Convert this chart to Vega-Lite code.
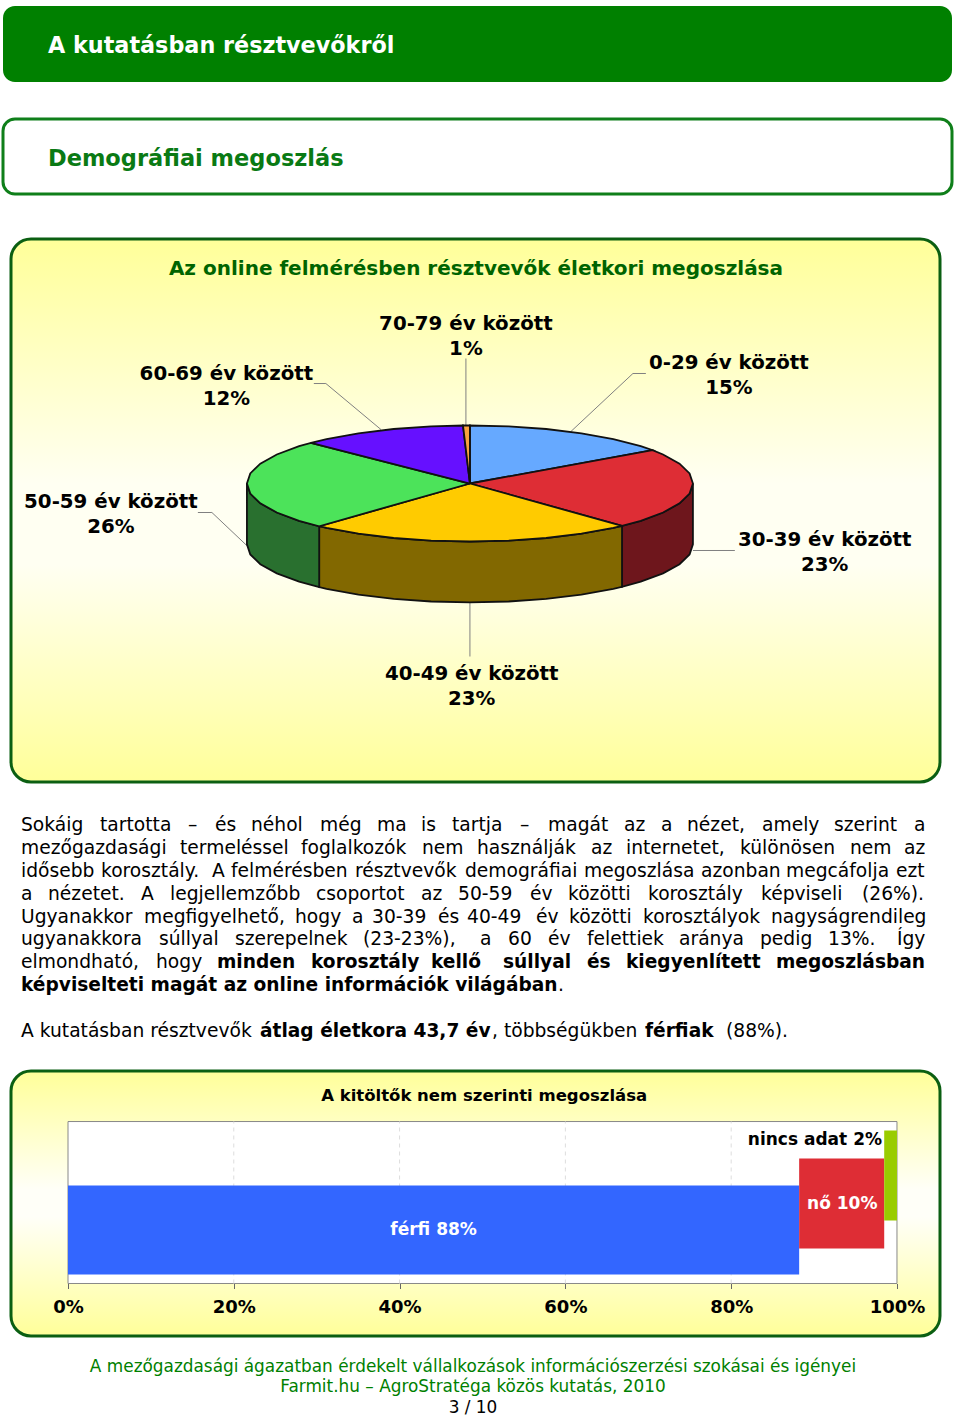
{
"$schema":"https://vega.github.io/schema/vega-lite/v6.json",
"background":"white",
"padding":{"left":1,"top":6,"right":0,"bottom":0},
"autosize":{"type":"pad"},
"spacing":0,
"resolve":{"scale":{"fill":"independent","color":"independent"}},
"config":{"font":"DejaVu Sans","view":{"stroke":null},"concat":{"spacing":0}},
"datasets":{
"lapok":[
{"resz":"0-29 év","o":0,"e":0,"n":0},{"resz":"0-29 év","o":1,"e":0,"n":1},{"resz":"0-29 év","o":2,"e":0.174,"n":0.985},{"resz":"0-29 év","o":3,"e":0.342,"n":0.94},{"resz":"0-29 év","o":4,"e":0.5,"n":0.866},{"resz":"0-29 év","o":5,"e":0.643,"n":0.766},{"resz":"0-29 év","o":6,"e":0.766,"n":0.643},{"resz":"0-29 év","o":7,"e":0.819,"n":0.574},{"resz":"0-29 év","o":8,"e":0,"n":0},
{"resz":"30-39 év","o":0,"e":0,"n":0},{"resz":"30-39 év","o":1,"e":0.819,"n":0.574},{"resz":"30-39 év","o":2,"e":0.866,"n":0.5},{"resz":"30-39 év","o":3,"e":0.94,"n":0.342},{"resz":"30-39 év","o":4,"e":0.985,"n":0.174},{"resz":"30-39 év","o":5,"e":1,"n":0},{"resz":"30-39 év","o":6,"e":0.985,"n":-0.174},{"resz":"30-39 év","o":7,"e":0.94,"n":-0.342},{"resz":"30-39 év","o":8,"e":0.866,"n":-0.5},{"resz":"30-39 év","o":9,"e":0.766,"n":-0.643},{"resz":"30-39 év","o":10,"e":0.682,"n":-0.731},{"resz":"30-39 év","o":11,"e":0,"n":0},
{"resz":"40-49 év","o":0,"e":0,"n":0},{"resz":"40-49 év","o":1,"e":0.682,"n":-0.731},{"resz":"40-49 év","o":2,"e":0.643,"n":-0.766},{"resz":"40-49 év","o":3,"e":0.5,"n":-0.866},{"resz":"40-49 év","o":4,"e":0.342,"n":-0.94},{"resz":"40-49 év","o":5,"e":0.174,"n":-0.985},{"resz":"40-49 év","o":6,"e":0,"n":-1},{"resz":"40-49 év","o":7,"e":-0.174,"n":-0.985},{"resz":"40-49 év","o":8,"e":-0.342,"n":-0.94},{"resz":"40-49 év","o":9,"e":-0.5,"n":-0.866},{"resz":"40-49 év","o":10,"e":-0.643,"n":-0.766},{"resz":"40-49 év","o":11,"e":-0.676,"n":-0.737},{"resz":"40-49 év","o":12,"e":0,"n":0},
{"resz":"50-59 év","o":0,"e":0,"n":0},{"resz":"50-59 év","o":1,"e":-0.676,"n":-0.737},{"resz":"50-59 év","o":2,"e":-0.766,"n":-0.643},{"resz":"50-59 év","o":3,"e":-0.866,"n":-0.5},{"resz":"50-59 év","o":4,"e":-0.94,"n":-0.342},{"resz":"50-59 év","o":5,"e":-0.985,"n":-0.174},{"resz":"50-59 év","o":6,"e":-1,"n":0},{"resz":"50-59 év","o":7,"e":-0.985,"n":0.174},{"resz":"50-59 év","o":8,"e":-0.94,"n":0.342},{"resz":"50-59 év","o":9,"e":-0.866,"n":0.5},{"resz":"50-59 év","o":10,"e":-0.766,"n":0.643},{"resz":"50-59 év","o":11,"e":-0.713,"n":0.701},{"resz":"50-59 év","o":12,"e":0,"n":0},
{"resz":"60-69 év","o":0,"e":0,"n":0},{"resz":"60-69 év","o":1,"e":-0.713,"n":0.701},{"resz":"60-69 év","o":2,"e":-0.643,"n":0.766},{"resz":"60-69 év","o":3,"e":-0.5,"n":0.866},{"resz":"60-69 év","o":4,"e":-0.342,"n":0.94},{"resz":"60-69 év","o":5,"e":-0.174,"n":0.985},{"resz":"60-69 év","o":6,"e":-0.031,"n":1},{"resz":"60-69 év","o":7,"e":0,"n":0},
{"resz":"70-79 év","o":0,"e":0,"n":0},{"resz":"70-79 év","o":1,"e":-0.031,"n":1},{"resz":"70-79 év","o":2,"e":0,"n":1},{"resz":"70-79 év","o":3,"e":0,"n":0}
],
"oldalak":[
{"resz":"30-39 év oldal","o":0,"e":1,"n":0},{"resz":"30-39 év oldal","o":1,"e":0.985,"n":-0.174},{"resz":"30-39 év oldal","o":2,"e":0.94,"n":-0.342},{"resz":"30-39 év oldal","o":3,"e":0.866,"n":-0.5},{"resz":"30-39 év oldal","o":4,"e":0.766,"n":-0.643},{"resz":"30-39 év oldal","o":5,"e":0.682,"n":-0.731},{"resz":"30-39 év oldal","o":6,"e":0.682,"n":-1.781},{"resz":"30-39 év oldal","o":7,"e":0.766,"n":-1.693},{"resz":"30-39 év oldal","o":8,"e":0.866,"n":-1.55},{"resz":"30-39 év oldal","o":9,"e":0.94,"n":-1.392},{"resz":"30-39 év oldal","o":10,"e":0.985,"n":-1.224},{"resz":"30-39 év oldal","o":11,"e":1,"n":-1.05},{"resz":"30-39 év oldal","o":12,"e":1,"n":0},
{"resz":"40-49 év oldal","o":0,"e":0.682,"n":-0.731},{"resz":"40-49 év oldal","o":1,"e":0.643,"n":-0.766},{"resz":"40-49 év oldal","o":2,"e":0.5,"n":-0.866},{"resz":"40-49 év oldal","o":3,"e":0.342,"n":-0.94},{"resz":"40-49 év oldal","o":4,"e":0.174,"n":-0.985},{"resz":"40-49 év oldal","o":5,"e":0,"n":-1},{"resz":"40-49 év oldal","o":6,"e":-0.174,"n":-0.985},{"resz":"40-49 év oldal","o":7,"e":-0.342,"n":-0.94},{"resz":"40-49 év oldal","o":8,"e":-0.5,"n":-0.866},{"resz":"40-49 év oldal","o":9,"e":-0.643,"n":-0.766},{"resz":"40-49 év oldal","o":10,"e":-0.676,"n":-0.737},{"resz":"40-49 év oldal","o":11,"e":-0.676,"n":-1.787},{"resz":"40-49 év oldal","o":12,"e":-0.643,"n":-1.816},{"resz":"40-49 év oldal","o":13,"e":-0.5,"n":-1.916},{"resz":"40-49 év oldal","o":14,"e":-0.342,"n":-1.99},{"resz":"40-49 év oldal","o":15,"e":-0.174,"n":-2.035},{"resz":"40-49 év oldal","o":16,"e":0,"n":-2.05},{"resz":"40-49 év oldal","o":17,"e":0.174,"n":-2.035},{"resz":"40-49 év oldal","o":18,"e":0.342,"n":-1.99},{"resz":"40-49 év oldal","o":19,"e":0.5,"n":-1.916},{"resz":"40-49 év oldal","o":20,"e":0.643,"n":-1.816},{"resz":"40-49 év oldal","o":21,"e":0.682,"n":-1.781},{"resz":"40-49 év oldal","o":22,"e":0.682,"n":-0.731},
{"resz":"50-59 év oldal","o":0,"e":-0.676,"n":-0.737},{"resz":"50-59 év oldal","o":1,"e":-0.766,"n":-0.643},{"resz":"50-59 év oldal","o":2,"e":-0.866,"n":-0.5},{"resz":"50-59 év oldal","o":3,"e":-0.94,"n":-0.342},{"resz":"50-59 év oldal","o":4,"e":-0.985,"n":-0.174},{"resz":"50-59 év oldal","o":5,"e":-1,"n":0},{"resz":"50-59 év oldal","o":6,"e":-1,"n":-1.05},{"resz":"50-59 év oldal","o":7,"e":-0.985,"n":-1.224},{"resz":"50-59 év oldal","o":8,"e":-0.94,"n":-1.392},{"resz":"50-59 év oldal","o":9,"e":-0.866,"n":-1.55},{"resz":"50-59 év oldal","o":10,"e":-0.766,"n":-1.693},{"resz":"50-59 év oldal","o":11,"e":-0.676,"n":-1.787},{"resz":"50-59 év oldal","o":12,"e":-0.676,"n":-0.737}
],
"vezetok":[
{"cs":"60-69","o":0,"e":-0.7,"n":1.724},{"cs":"60-69","o":1,"e":-0.646,"n":1.724},{"cs":"60-69","o":2,"e":-0.399,"n":0.931},
{"cs":"70-79","o":0,"e":-0.018,"n":2.155},{"cs":"70-79","o":1,"e":-0.018,"n":1},
{"cs":"0-29","o":0,"e":0.789,"n":1.897},{"cs":"0-29","o":1,"e":0.731,"n":1.897},{"cs":"0-29","o":2,"e":0.453,"n":0.897},
{"cs":"50-59","o":0,"e":-1.22,"n":-0.5},{"cs":"50-59","o":1,"e":-1.157,"n":-0.5},{"cs":"50-59","o":2,"e":-0.996,"n":-1.086},
{"cs":"30-39","o":0,"e":1,"n":-1.155},{"cs":"30-39","o":1,"e":1.188,"n":-1.155},
{"cs":"40-49","o":0,"e":0,"n":-2.05},{"cs":"40-49","o":1,"e":0,"n":-2.983}
],
"cimkek":[
{"felirat":"60-69 év között\n12%","e":-1.092,"n":1.69},
{"felirat":"70-79 év között\n1%","e":-0.018,"n":2.56},
{"felirat":"0-29 év között\n15%","e":1.161,"n":1.871},
{"felirat":"50-59 év között\n26%","e":-1.61,"n":-0.509},
{"felirat":"30-39 év között\n23%","e":1.591,"n":-1.164},
{"felirat":"40-49 év között\n23%","e":0.008,"n":-3.491}
],
"szavak":[
{"sor":1,"hely":21,"szo":"Sokáig","f":0},{"sor":1,"hely":100,"szo":"tartotta","f":0},{"sor":1,"hely":188,"szo":"–","f":0},{"sor":1,"hely":215,"szo":"és","f":0},{"sor":1,"hely":251,"szo":"néhol","f":0},{"sor":1,"hely":320,"szo":"még","f":0},{"sor":1,"hely":377,"szo":"ma","f":0},{"sor":1,"hely":421,"szo":"is","f":0},{"sor":1,"hely":452,"szo":"tartja","f":0},{"sor":1,"hely":520,"szo":"–","f":0},{"sor":1,"hely":548,"szo":"magát","f":0},{"sor":1,"hely":624,"szo":"az","f":0},{"sor":1,"hely":661,"szo":"a","f":0},{"sor":1,"hely":687,"szo":"nézet,","f":0},{"sor":1,"hely":762,"szo":"amely","f":0},{"sor":1,"hely":834,"szo":"szerint","f":0},{"sor":1,"hely":914,"szo":"a","f":0},
{"sor":2,"hely":21,"szo":"mezőgazdasági","f":0},{"sor":2,"hely":180,"szo":"termeléssel","f":0},{"sor":2,"hely":301,"szo":"foglalkozók","f":0},{"sor":2,"hely":422,"szo":"nem","f":0},{"sor":2,"hely":477,"szo":"használják","f":0},{"sor":2,"hely":591,"szo":"az","f":0},{"sor":2,"hely":626,"szo":"internetet,","f":0},{"sor":2,"hely":740,"szo":"különösen","f":0},{"sor":2,"hely":850,"szo":"nem","f":0},{"sor":2,"hely":904,"szo":"az","f":0},
{"sor":3,"hely":21,"szo":"idősebb","f":0},{"sor":3,"hely":101,"szo":"korosztály.","f":0},{"sor":3,"hely":212,"szo":"A","f":0},{"sor":3,"hely":231,"szo":"felmérésben","f":0},{"sor":3,"hely":355,"szo":"résztvevők","f":0},{"sor":3,"hely":465,"szo":"demográfiai","f":0},{"sor":3,"hely":584,"szo":"megoszlása","f":0},{"sor":3,"hely":701,"szo":"azonban","f":0},{"sor":3,"hely":786,"szo":"megcáfolja","f":0},{"sor":3,"hely":896,"szo":"ezt","f":0},
{"sor":4,"hely":21,"szo":"a","f":0},{"sor":4,"hely":48,"szo":"nézetet.","f":0},{"sor":4,"hely":141,"szo":"A","f":0},{"sor":4,"hely":170,"szo":"legjellemzőbb","f":0},{"sor":4,"hely":316,"szo":"csoportot","f":0},{"sor":4,"hely":421,"szo":"az","f":0},{"sor":4,"hely":458,"szo":"50-59","f":0},{"sor":4,"hely":530,"szo":"év","f":0},{"sor":4,"hely":568,"szo":"közötti","f":0},{"sor":4,"hely":648,"szo":"korosztály","f":0},{"sor":4,"hely":761,"szo":"képviseli","f":0},{"sor":4,"hely":862,"szo":"(26%).","f":0},
{"sor":5,"hely":21,"szo":"Ugyanakkor","f":0},{"sor":5,"hely":144,"szo":"megfigyelhető,","f":0},{"sor":5,"hely":295,"szo":"hogy","f":0},{"sor":5,"hely":352,"szo":"a","f":0},{"sor":5,"hely":372,"szo":"30-39","f":0},{"sor":5,"hely":438,"szo":"és","f":0},{"sor":5,"hely":467,"szo":"40-49","f":0},{"sor":5,"hely":536,"szo":"év","f":0},{"sor":5,"hely":569,"szo":"közötti","f":0},{"sor":5,"hely":643,"szo":"korosztályok","f":0},{"sor":5,"hely":771,"szo":"nagyságrendileg","f":0},
{"sor":6,"hely":21,"szo":"ugyanakkora","f":0},{"sor":6,"hely":159,"szo":"súllyal","f":0},{"sor":6,"hely":235,"szo":"szerepelnek","f":0},{"sor":6,"hely":363,"szo":"(23-23%),","f":0},{"sor":6,"hely":480,"szo":"a","f":0},{"sor":6,"hely":508,"szo":"60","f":0},{"sor":6,"hely":548,"szo":"év","f":0},{"sor":6,"hely":587,"szo":"felettiek","f":0},{"sor":6,"hely":679,"szo":"aránya","f":0},{"sor":6,"hely":760,"szo":"pedig","f":0},{"sor":6,"hely":828,"szo":"13%.","f":0},{"sor":6,"hely":897,"szo":"Így","f":0},
{"sor":7,"hely":21,"szo":"elmondható,","f":0},{"sor":7,"hely":156,"szo":"hogy","f":0},{"sor":7,"hely":217,"szo":"minden","f":1},{"sor":7,"hely":311,"szo":"korosztály","f":1},{"sor":7,"hely":431,"szo":"kellő","f":1},{"sor":7,"hely":503,"szo":"súllyal","f":1},{"sor":7,"hely":587,"szo":"és","f":1},{"sor":7,"hely":626,"szo":"kiegyenlített","f":1},{"sor":7,"hely":776,"szo":"megoszlásban","f":1},
{"sor":8,"hely":21,"szo":"képviselteti magát az online információk világában","f":1},{"sor":8,"hely":558,"szo":".","f":0},
{"sor":10,"hely":21,"szo":"A kutatásban résztvevők","f":0},{"sor":10,"hely":260,"szo":"átlag életkora 43,7 év","f":1},{"sor":10,"hely":492,"szo":", többségükben","f":0},{"sor":10,"hely":645,"szo":"férfiak","f":1},{"sor":10,"hely":726,"szo":"(88%).","f":0}
],
"nemek":[
{"kategoria":"férfi","felirat":"férfi 88%","kezd":0,"veg":88.2,"also":0.1,"felso":1.1,"hely":44.1,"sor":0.596},
{"kategoria":"nő","felirat":"nő 10%","kezd":88.2,"veg":98.46,"also":0.393,"felso":1.404,"hely":93.4,"sor":0.899},
{"kategoria":"nincs adat","felirat":"nincs adat 2%","kezd":98.46,"veg":100,"also":0.708,"felso":1.719,"hely":90.1,"sor":1.607}
]
},
"vconcat":[
{"width":949,"height":76,"view":{"fill":"#008000","cornerRadius":12,"stroke":null},
 "data":{"values":[{"cim":"A kutatásban résztvevőkről","hely":4.74,"sor":0.47}]},
 "mark":{"type":"text","align":"left","baseline":"middle","fontWeight":"bold","fontSize":22.3,"color":"white"},
 "encoding":{"x":{"field":"hely","type":"quantitative","axis":null,"scale":{"domain":[0,100],"nice":false}},"y":{"field":"sor","type":"quantitative","axis":null,"scale":{"domain":[0,1],"nice":false}},"text":{"field":"cim"}}},
{"width":1,"height":35,"view":{"stroke":null},"data":{"values":[{}]},"mark":{"type":"rect","opacity":0},"encoding":{}},
{"width":949,"height":75,"view":{"fill":"white","cornerRadius":12,"stroke":"#0F7F1A","strokeWidth":3},
 "data":{"values":[{"cim":"Demográfiai megoszlás","hely":4.74,"sor":0.47}]},
 "mark":{"type":"text","align":"left","baseline":"middle","fontWeight":"bold","fontSize":22.5,"color":"#0A7A14"},
 "encoding":{"x":{"field":"hely","type":"quantitative","axis":null,"scale":{"domain":[0,100],"nice":false}},"y":{"field":"sor","type":"quantitative","axis":null,"scale":{"domain":[0,1],"nice":false}},"text":{"field":"cim"}}},
{"width":1,"height":41,"view":{"stroke":null},"data":{"values":[{}]},"mark":{"type":"rect","opacity":0},"encoding":{}},
{"hconcat":[
 {"width":5.5,"height":10,"view":{"stroke":null},"data":{"values":[{}]},"mark":{"type":"rect","opacity":0},"encoding":{}},
 {"width":929,"height":543,
  "view":{"stroke":"#0B5F12","strokeWidth":3,"cornerRadius":20,"fill":{"gradient":"linear","x1":0,"y1":0,"x2":0,"y2":1,"stops":[{"offset":0,"color":"#FFFF99"},{"offset":0.45,"color":"#FFFFF2"},{"offset":0.6,"color":"#FFFFF2"},{"offset":1,"color":"#FFFF99"}]}},
  "encoding":{
   "x":{"field":"e","type":"quantitative","axis":null,"scale":{"domain":[-2.058,2.108],"nice":false}},
   "y":{"field":"n","type":"quantitative","axis":null,"scale":{"domain":[-5.147,4.216],"nice":false}}},
  "layer":[
   {"data":{"name":"vezetok"},"mark":{"type":"line","stroke":"#808080","strokeWidth":1},"encoding":{"detail":{"field":"cs"},"order":{"field":"o","type":"quantitative"}}},
   {"data":{"name":"oldalak"},"mark":{"type":"line","stroke":"#111111","strokeWidth":1.8},"encoding":{"fill":{"field":"resz","type":"nominal","legend":null,"scale":{"domain":["0-29 év","30-39 év","40-49 év","50-59 év","60-69 év","70-79 év","30-39 év oldal","40-49 év oldal","50-59 év oldal"],"range":["#66A9FF","#DE2D35","#FFCB00","#4CE35A","#6610FF","#F9A13E","#6E161C","#826800","#29702F"]}},"order":{"field":"o","type":"quantitative"}}},
   {"data":{"name":"lapok"},"mark":{"type":"line","stroke":"#111111","strokeWidth":1.8},"encoding":{"fill":{"field":"resz","type":"nominal","legend":null},"order":{"field":"o","type":"quantitative"}}},
   {"data":{"name":"cimkek"},"mark":{"type":"text","align":"center","baseline":"middle","dy":-11.5,"fontWeight":"bold","fontSize":19.8,"lineBreak":"\n","lineHeight":25,"color":"black"},"encoding":{"text":{"field":"felirat"}}},
   {"data":{"values":[{"felirat":"Az online felmérésben résztvevők életkori megoszlása","e":0.027,"n":3.707}]},"mark":{"type":"text","align":"center","baseline":"middle","fontWeight":"bold","fontSize":20,"color":"#006400"},"encoding":{"text":{"field":"felirat"}}}
  ]}
 ],"spacing":0},
{"width":949,"height":285,
 "data":{"name":"szavak"},
 "encoding":{
  "x":{"field":"hely","type":"quantitative","axis":null,"scale":{"domain":[3,952],"nice":false}},
  "y":{"field":"sor","type":"quantitative","axis":null,"scale":{"domain":[-0.79,11.656],"reverse":true,"nice":false}},
  "text":{"field":"szo"}},
 "layer":[
  {"transform":[{"filter":"datum.f==0"}],"mark":{"type":"text","align":"left","baseline":"middle","fontSize":18.7,"color":"black"}},
  {"transform":[{"filter":"datum.f==1"}],"mark":{"type":"text","align":"left","baseline":"middle","fontSize":18.6,"fontWeight":"bold","color":"black"}}
 ]},
{"hconcat":[
 {"width":5.5,"height":10,"view":{"stroke":null},"data":{"values":[{}]},"mark":{"type":"rect","opacity":0},"encoding":{}},
 {"width":929,"height":265,
  "view":{"stroke":"#0B5F12","strokeWidth":3,"cornerRadius":20,"fill":{"gradient":"linear","x1":0,"y1":0,"x2":0,"y2":1,"stops":[{"offset":0,"color":"#FFFF99"},{"offset":0.45,"color":"#FFFFF8"},{"offset":0.55,"color":"#FFFFF8"},{"offset":1,"color":"#FFFF99"}]}},
  "data":{"name":"nemek"},
  "layer":[
   {"data":{"values":[{"kezd":0,"veg":100,"also":0,"felso":1.82}]},"mark":{"type":"rect","fill":"white","stroke":"#888888","strokeWidth":1},
    "encoding":{"x":{"field":"kezd","type":"quantitative","title":null,"scale":{"domain":[-6.876,105.19],"nice":false},"axis":{"values":[0,20,40,60,80,100],"orient":"bottom","offset":-52.5,"domain":false,"grid":false,"tickColor":"#666666","tickSize":5,"labelExpr":"datum.value+'%'","labelFontSize":18,"labelFontWeight":"bold","labelColor":"black","labelPadding":10,"labelFlush":false}},"x2":{"field":"veg"},"y":{"field":"also","type":"quantitative","axis":null,"scale":{"domain":[-0.59,2.388],"nice":false}},"y2":{"field":"felso"}}},
   {"data":{"values":[{"h":20,"also":0,"felso":1.82},{"h":40,"also":0,"felso":1.82},{"h":60,"also":0,"felso":1.82},{"h":80,"also":0,"felso":1.82}]},"mark":{"type":"rule","stroke":"#DDDDDD","strokeDash":[4,4]},
    "encoding":{"x":{"field":"h","type":"quantitative"},"y":{"field":"also","type":"quantitative"},"y2":{"field":"felso"}}},
   {"mark":{"type":"rect"},
    "encoding":{"x":{"field":"kezd","type":"quantitative"},"x2":{"field":"veg"},"y":{"field":"also","type":"quantitative"},"y2":{"field":"felso"},"fill":{"field":"kategoria","type":"nominal","legend":null,"scale":{"domain":["férfi","nő","nincs adat"],"range":["#3366FF","#DE2D35","#99CC00"]}}}},
   {"transform":[{"filter":"datum.kategoria!='nincs adat'"}],"mark":{"type":"text","fontWeight":"bold","fontSize":17,"color":"white","align":"center","baseline":"middle"},
    "encoding":{"x":{"field":"hely","type":"quantitative"},"y":{"field":"sor","type":"quantitative"},"text":{"field":"felirat"}}},
   {"transform":[{"filter":"datum.kategoria=='nincs adat'"}],"mark":{"type":"text","fontWeight":"bold","fontSize":17,"color":"black","align":"center","baseline":"middle"},
    "encoding":{"x":{"field":"hely","type":"quantitative"},"y":{"field":"sor","type":"quantitative"},"text":{"field":"felirat"}}},
   {"data":{"values":[{"felirat":"A kitöltők nem szerinti megoszlása","hely":50.2,"sor":2.11}]},"mark":{"type":"text","fontWeight":"bold","fontSize":16.5,"color":"black","align":"center","baseline":"middle"},
    "encoding":{"x":{"field":"hely","type":"quantitative"},"y":{"field":"sor","type":"quantitative"},"text":{"field":"felirat"}}}
  ]}
 ],"spacing":0},
{"width":949,"height":79,
 "data":{"values":[
  {"sor":1,"szoveg":"A mezőgazdasági ágazatban érdekelt vállalkozások információszerzési szokásai és igényei","tipus":"zold"},
  {"sor":2,"szoveg":"Farmit.hu – AgroStratéga közös kutatás, 2010","tipus":"zold"},
  {"sor":3,"szoveg":"3 / 10","tipus":"fekete"}]},
 "mark":{"type":"text","align":"center","baseline":"middle","fontSize":16.9},
 "encoding":{
  "x":{"datum":473,"type":"quantitative","axis":null,"scale":{"domain":[3,952],"nice":false}},
  "y":{"field":"sor","type":"quantitative","axis":null,"scale":{"domain":[-0.415,3.44],"reverse":true,"nice":false}},
  "text":{"field":"szoveg"},
  "color":{"field":"tipus","type":"nominal","legend":null,"scale":{"domain":["zold","fekete"],"range":["#008000","#000000"]}}}}
]}
